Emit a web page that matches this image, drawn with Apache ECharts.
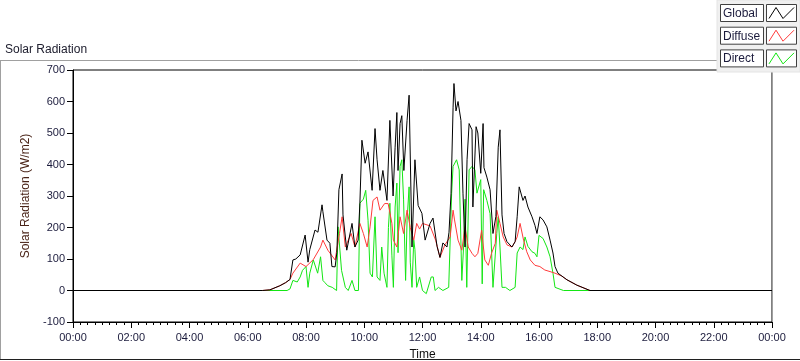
<!DOCTYPE html>
<html>
<head>
<meta charset="utf-8">
<script src="https://cdn.jsdelivr.net/npm/echarts@6/dist/echarts.min.js"></script>
<style>
  html, body { margin: 0; padding: 0; background: #fff; }
  #main { width: 800px; height: 361px; }
</style>
</head>
<body>
<div id="main"></div>
<script>
// time in hours of the day, values in W/m2
var globalTimes = [0, 6.5, 6.76, 7.1, 7.3, 7.45, 7.55, 7.65, 7.8, 7.97, 8.07, 8.13, 8.31, 8.41, 8.55, 8.58, 8.72, 8.82, 8.89, 9.0, 9.06, 9.13, 9.24, 9.27, 9.4, 9.58, 9.68, 9.79, 9.85, 9.92, 10.03, 10.13, 10.27, 10.37, 10.44, 10.54, 10.64, 10.78, 10.88, 10.99, 11.06, 11.12, 11.16, 11.23, 11.29, 11.36, 11.47, 11.54, 11.64, 11.74, 11.85, 11.98, 12.09, 12.26, 12.36, 12.5, 12.6, 12.7, 12.84, 12.91, 12.98, 13.05, 13.08, 13.15, 13.22, 13.32, 13.39, 13.46, 13.53, 13.6, 13.7, 13.73, 13.84, 13.9, 14.0, 14.08, 14.11, 14.21, 14.32, 14.42, 14.52, 14.6, 14.66, 14.73, 14.8, 14.9, 15.07, 15.18, 15.25, 15.32, 15.45, 15.52, 15.62, 15.76, 15.86, 15.93, 16.03, 16.14, 16.27, 16.38, 16.48, 16.55, 16.65, 16.96, 17.3, 17.75, 24];
var globalValues = [0, 0, 2, 15, 25, 35, 97, 100, 113, 176, 90, 130, 192, 185, 272, 250, 160, 150, 76, 75, 120, 320, 370, 240, 128, 213, 138, 160, 277, 477, 404, 440, 318, 514, 415, 318, 381, 286, 540, 300, 455, 565, 381, 530, 555, 381, 540, 620, 138, 415, 270, 245, 160, 213, 230, 140, 105, 151, 138, 185, 309, 582, 657, 570, 600, 540, 309, 138, 415, 530, 510, 265, 520, 500, 372, 530, 390, 360, 320, 181, 235, 455, 510, 240, 181, 155, 138, 155, 234, 329, 286, 300, 265, 234, 207, 181, 234, 224, 202, 160, 119, 76, 55, 34, 17, 0, 0];

var diffuseTimes = [0, 6.5, 6.76, 7.1, 7.3, 7.45, 7.55, 7.8, 8.0, 8.25, 8.5, 8.58, 8.75, 9.0, 9.15, 9.24, 9.35, 9.55, 9.68, 9.85, 9.97, 10.1, 10.2, 10.3, 10.44, 10.54, 10.7, 10.82, 10.95, 11.0, 11.12, 11.23, 11.35, 11.47, 11.58, 11.7, 11.8, 11.9, 12.0, 12.26, 12.45, 12.6, 12.77, 12.95, 13.05, 13.1, 13.22, 13.35, 13.46, 13.57, 13.7, 13.8, 13.9, 14.03, 14.14, 14.26, 14.37, 14.5, 14.55, 14.66, 14.77, 14.9, 15.07, 15.18, 15.25, 15.35, 15.47, 15.58, 15.7, 15.86, 16.03, 16.2, 16.38, 16.55, 16.78, 16.96, 17.3, 17.75, 24];
var diffuseValues = [0, 0, 2, 15, 25, 35, 55, 87, 76, 98, 138, 160, 128, 97, 181, 234, 138, 181, 138, 213, 181, 138, 202, 286, 297, 255, 276, 276, 213, 160, 138, 234, 181, 255, 200, 160, 213, 195, 213, 205, 160, 105, 145, 170, 255, 224, 160, 128, 202, 138, 118, 107, 118, 191, 97, 80, 118, 150, 255, 213, 170, 145, 138, 155, 170, 213, 160, 123, 97, 80, 76, 65, 60, 55, 46, 34, 17, 0, 0];

var directTimes = [0, 7.35, 7.45, 7.55, 7.7, 7.8, 7.88, 8.0, 8.07, 8.13, 8.25, 8.4, 8.5, 8.58, 8.65, 8.75, 8.9, 9.05, 9.1, 9.15, 9.22, 9.35, 9.45, 9.58, 9.68, 9.8, 9.85, 9.97, 10.05, 10.13, 10.2, 10.28, 10.37, 10.44, 10.54, 10.6, 10.68, 10.78, 10.83, 10.88, 10.95, 11.0, 11.06, 11.12, 11.16, 11.23, 11.29, 11.35, 11.42, 11.47, 11.54, 11.58, 11.64, 11.7, 11.74, 11.8, 11.9, 12.0, 12.13, 12.3, 12.37, 12.43, 12.55, 12.7, 12.9, 13.0, 13.05, 13.17, 13.26, 13.35, 13.41, 13.46, 13.52, 13.6, 13.7, 13.8, 13.87, 14.0, 14.05, 14.1, 14.21, 14.32, 14.42, 14.55, 14.6, 14.66, 14.73, 14.85, 15.0, 15.18, 15.25, 15.35, 15.45, 15.52, 15.62, 15.76, 15.86, 15.93, 16.0, 16.14, 16.27, 16.38, 16.48, 16.55, 16.84, 24];
var directValues = [0, 0, 5, 32, 27, 43, 64, 76, 10, 55, 97, 55, 107, 32, 25, 15, 10, 0, 202, 202, 64, 10, 0, 32, 0, 0, 277, 290, 318, 223, 55, 43, 234, 43, 32, 138, 55, 10, 200, 277, 110, 10, 265, 341, 120, 394, 415, 290, 32, 223, 329, 90, 10, 160, 130, 10, 43, 0, -10, 43, 43, 0, 10, 0, 10, 309, 394, 415, 383, 32, 138, 290, 10, 383, 394, 383, 309, 352, 21, 320, 286, 244, 10, 181, 234, 138, 10, 10, 0, 10, 119, 138, 130, 170, 140, 123, 118, 107, 175, 165, 138, 107, 55, 10, 0, 0];

var seriesNames = ['Global', 'Diffuse', 'Direct'];
var seriesColors = ['#000000', '#ff3b3b', '#14e614'];

function pairs(ts, vs) {
  var out = [];
  for (var i = 0; i < ts.length; i++) out.push([ts[i], vs[i]]);
  return out;
}

var myChart = echarts.init(document.getElementById('main'));
var labelColor = '#1b1b3c';
var font = 'Liberation Sans';

// legend boxes drawn like the original panel
var legendItems = [];
legendItems.push({ type: 'rect', shape: { x: 717, y: 0, width: 83, height: 72 }, style: { fill: '#f0f0f0', stroke: '#e4e4e4' }, z: 100 });
for (var i = 0; i < seriesNames.length; i++) {
  var y0 = 4.5 + i * 22.7;
  legendItems.push({ type: 'rect', shape: { x: 720.5, y: y0, width: 43, height: 17 }, style: { fill: '#fff', stroke: '#404040' }, z: 101 });
  legendItems.push({ type: 'rect', shape: { x: 766.5, y: y0, width: 30, height: 17 }, style: { fill: '#fff', stroke: '#404040' }, z: 101 });
  legendItems.push({ type: 'text', x: 723, y: y0 + 9, style: { text: seriesNames[i], fill: labelColor, font: '12px ' + font, verticalAlign: 'middle' }, z: 102 });
  legendItems.push({ type: 'polyline', shape: { points: [[769, y0 + 14], [776, y0 + 3], [783, y0 + 14], [794, y0 + 3]] }, style: { stroke: seriesColors[i], fill: null, lineWidth: 1 }, z: 102 });
}

myChart.setOption({
  animation: false,
  backgroundColor: '#fff',
  grid: { left: 73, right: 28, top: 70, bottom: 39, show: true, borderColor: '#000', borderWidth: 1, outerBoundsMode: 'none', containLabel: false },
  graphic: [
    { type: 'line', shape: { x1: 0, y1: 60.5, x2: 717, y2: 60.5 }, style: { stroke: '#a0a0a0' }, z: 50 },
    { type: 'line', shape: { x1: 0.5, y1: 60, x2: 0.5, y2: 359 }, style: { stroke: '#a0a0a0' }, z: 50 },
    { type: 'line', shape: { x1: 0, y1: 359.5, x2: 800, y2: 359.5 }, style: { stroke: '#202020' }, z: 50 },
    { type: 'line', shape: { x1: 772.5, y1: 70, x2: 772.5, y2: 322 }, style: { stroke: '#a0a0a0' }, z: 50 },
    { type: 'text', x: 5, y: 50, style: { text: 'Solar Radiation', fill: '#202030', font: '12px ' + font, verticalAlign: 'middle' }, z: 50 }
  ].concat(legendItems),
  xAxis: {
    type: 'value', min: 0, max: 24, interval: 2,
    axisLine: { onZero: false, lineStyle: { color: '#000' } },
    axisTick: { length: 6, lineStyle: { color: '#000' } },
    minorTick: { show: true, splitNumber: 8, length: 3, lineStyle: { color: '#000' } },
    splitLine: { show: false },
    axisLabel: {
      color: labelColor, fontFamily: font, fontSize: 11, margin: 10,
      formatter: function (v) { var h = v % 24; return (h < 10 ? '0' : '') + h + ':00'; }
    },
    name: 'Time', nameLocation: 'middle', nameGap: 27,
    nameTextStyle: { color: '#101010', fontFamily: font, fontSize: 12 }
  },
  yAxis: {
    type: 'value', min: -100, max: 700, interval: 100,
    axisLine: { show: true, onZero: false, lineStyle: { color: '#000' } },
    axisTick: { show: true, length: 6, lineStyle: { color: '#000' } },
    splitLine: { show: false },
    axisLabel: { color: labelColor, fontFamily: font, fontSize: 11, margin: 8 },
    name: 'Solar Radiation (W/m2)', nameLocation: 'middle', nameGap: 31,
    nameTextStyle: { color: '#4a2418', fontFamily: font, fontSize: 12 }
  },
  series: [
    { name: 'Direct', type: 'line', z: 2, showSymbol: false, data: pairs(directTimes, directValues), lineStyle: { color: seriesColors[2], width: 1 } },
    { name: 'Diffuse', type: 'line', z: 3, showSymbol: false, data: pairs(diffuseTimes, diffuseValues), lineStyle: { color: seriesColors[1], width: 1 } },
    { name: 'Global', type: 'line', z: 4, showSymbol: false, data: pairs(globalTimes, globalValues), lineStyle: { color: seriesColors[0], width: 1 } }
  ]
});
</script>
</body>
</html>
